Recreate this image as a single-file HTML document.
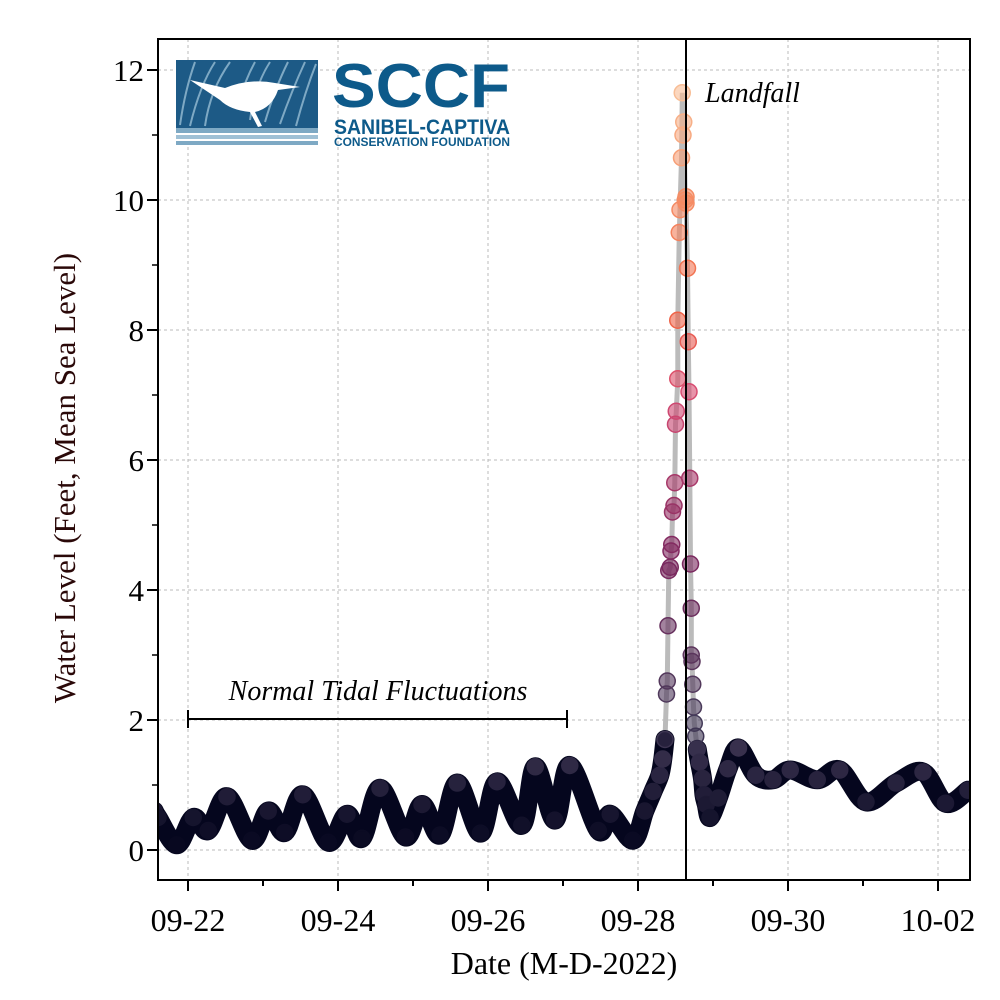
<!DOCTYPE html>
<html><head><meta charset="utf-8"><style>
html,body{margin:0;padding:0;background:#fff;}
svg{display:block;font-family:"Liberation Serif",serif;}
</style></head><body>
<svg id="chart" width="1000" height="1000" viewBox="0 0 1000 1000">
<g id="grid"></g>
<g id="logo">
  <rect x="176" y="60" width="142" height="68" fill="#1d5a86"/>
  <g stroke="#7ea9c4" stroke-width="2" fill="none">
    <path d="M180 125 Q185 90 195 62"/><path d="M190 126 Q200 85 215 62"/><path d="M205 126 Q210 90 230 62"/>
    <path d="M250 120 Q255 85 270 62"/><path d="M265 122 Q275 88 288 62"/><path d="M280 124 Q292 90 305 62"/>
    <path d="M296 126 Q305 92 316 64"/><path d="M240 100 Q245 80 255 62"/>
  </g>
  <path d="M190 80 L225 88 Q250 78 275 83 L300 87 L278 90 Q272 108 255 112 L262 126 L258 127 L250 112 Q230 110 220 100 Z" fill="#fff"/>
  <rect x="176" y="128" width="142" height="5" fill="#7ea9c4"/>
  <rect x="176" y="135" width="142" height="4" fill="#9fc0d5"/>
  <rect x="176" y="141" width="142" height="4" fill="#7ea9c4"/>
  <text x="332" y="107" font-family="'Liberation Sans',sans-serif" font-weight="bold" font-size="62" fill="#0d5a8a" textLength="178" lengthAdjust="spacingAndGlyphs">SCCF</text>
  <text x="334" y="134" font-family="'Liberation Sans',sans-serif" font-weight="bold" font-size="21" fill="#0d5a8a" textLength="176" lengthAdjust="spacingAndGlyphs">SANIBEL-CAPTIVA</text>
  <text x="334" y="146" font-family="'Liberation Sans',sans-serif" font-weight="bold" font-size="11.5" fill="#0d5a8a" textLength="176" lengthAdjust="spacingAndGlyphs">CONSERVATION FOUNDATION</text>
</g>
<g id="series"></g>
<line x1="686" y1="39" x2="686" y2="880" stroke="#000" stroke-width="2"/>
<text x="705" y="102" font-style="italic" font-size="28">Landfall</text>
<g stroke="#000" stroke-width="2">
  <line x1="188" y1="719" x2="567" y2="719"/><line x1="188" y1="710" x2="188" y2="728"/><line x1="567" y1="710" x2="567" y2="728"/>
</g>
<text x="378" y="700" text-anchor="middle" font-style="italic" font-size="28">Normal Tidal Fluctuations</text>
<rect x="158" y="39" width="812" height="841" fill="none" stroke="#000" stroke-width="2"/>
<g id="axes"></g>
<text x="564" y="974" text-anchor="middle" font-size="32">Date (M-D-2022)</text>
<text transform="translate(75,478) rotate(-90)" text-anchor="middle" font-size="31" fill="#2a0808">Water Level (Feet, Mean Sea Level)</text>
</svg>
<script>
// days since 09-22 00:00
const times = [-0.45,-0.4,-0.15,0.07,0.27,0.52,0.85,1.07,1.29,1.53,1.87,2.12,2.32,2.56,2.9,3.12,3.36,3.59,3.9,4.12,4.45,4.63,4.89,5.09,5.47,5.63,5.93,6.09,6.2,6.29,6.33,6.36,6.38,6.39,6.4,6.41,6.43,6.44,6.45,6.46,6.48,6.49,6.5,6.51,6.53,6.53,6.55,6.56,6.58,6.59,6.6,6.61,6.63,6.64,6.64,6.66,6.67,6.68,6.69,6.7,6.71,6.71,6.72,6.73,6.74,6.75,6.77,6.79,6.82,6.86,6.88,6.91,6.96,7.07,7.2,7.34,7.57,7.8,8.03,8.39,8.69,9.04,9.44,9.8,10.1,10.4];
const levels = [0.6,0.5,0.08,0.5,0.3,0.82,0.15,0.6,0.27,0.85,0.12,0.55,0.18,0.95,0.2,0.7,0.23,1.03,0.26,1.05,0.38,1.28,0.46,1.3,0.3,0.55,0.15,0.6,0.9,1.15,1.4,1.7,2.4,2.6,3.45,4.3,4.35,4.6,4.7,5.2,5.3,5.65,6.55,6.75,7.25,8.15,9.5,9.85,10.65,11.65,11.0,11.2,10.0,10.05,9.95,8.95,7.82,7.05,5.72,4.4,3.72,3.0,2.9,2.55,2.2,1.95,1.75,1.55,1.35,1.1,0.85,0.7,0.5,0.8,1.25,1.57,1.15,1.08,1.23,1.08,1.23,0.74,1.03,1.2,0.72,0.92,1.03,0.82];
const yTicks = [0,2,4,6,8,10,12];
const xTickDays = [0,2,4,6,8,10];
const xTickLabels = ["09-22","09-24","09-26","09-28","09-30","10-02"];

const NS="http://www.w3.org/2000/svg";
const X0=158,X1=970,Y0=39,Y1=880;
const xs=t=>188+75*t;
const ys=v=>850-65*v;
function mk(tag,attrs,parent){const e=document.createElementNS(NS,tag);for(const k in attrs)e.setAttribute(k,attrs[k]);parent.appendChild(e);return e;}
const grid=document.getElementById('grid'),axes=document.getElementById('axes'),series=document.getElementById('series');

yTicks.forEach(v=>{
  const g=mk('line',{x1:X0,x2:X1,y1:ys(v),y2:ys(v),stroke:'#bbb','stroke-width':1,'stroke-dasharray':'3,3'},grid);
  
  
  const t=mk('line',{x1:X0-11,x2:X0,y1:ys(v),y2:ys(v),stroke:'#000','stroke-width':2},axes);
  
  
  const l=mk('text',{x:X0-14,y:ys(v)+11,'text-anchor':'end','font-size':31},axes);
  l.textContent=v;
  
  
});
for(let v=1;v<=12;v+=2){
  const t=mk('line',{x1:X0-6,x2:X0,y1:ys(v),y2:ys(v),stroke:'#000','stroke-width':1.5},axes);
  
  
}
xTickDays.forEach((d,i)=>{
  const g=mk('line',{x1:xs(d),x2:xs(d),y1:Y0,y2:Y1,stroke:'#bbb','stroke-width':1,'stroke-dasharray':'3,3'},grid);
  
  
  const l=mk('text',{x:xs(d),y:931,'text-anchor':'middle','font-size':32},axes);
  l.textContent=xTickLabels[i];
  
  
});
for(let d=0;d<=10;d++){
  const t=mk('line',{x1:xs(d),x2:xs(d),y1:Y1,y2:Y1+(d%2?6:11),stroke:'#000','stroke-width':2},axes);
  
  
}

const stops=[[0,[5,6,30]],[2,[70,60,90]],[4.5,[125,40,95]],[7,[215,75,115]],[8.2,[240,100,70]],[10,[245,140,100]],[11.7,[248,190,150]]];
function col(v){
  if(v<=stops[0][0])return stops[0][1];
  for(let i=1;i<stops.length;i++){if(v<=stops[i][0]){const a=stops[i-1],b=stops[i],f=(v-a[0])/(b[0]-a[0]);return a[1].map((c,j)=>Math.round(c+(b[1][j]-c)*f));}}
  return stops[stops.length-1][1];
}
const clip=mk('clipPath',{id:'pc'},document.getElementById('chart'));
mk('rect',{x:X0,y:Y0,width:X1-X0,height:Y1-Y0},clip);
series.setAttribute('clip-path','url(#pc)');

let d='';
times.forEach((t,i)=>{d+=(i?'L':'M')+xs(t).toFixed(1)+' '+ys(levels[i]).toFixed(1);});
const gl=mk('path',{d:d,fill:'none',stroke:'#bbb','stroke-width':5},series);



function smooth(pts){
  let s='M'+pts[0][0].toFixed(1)+' '+pts[0][1].toFixed(1);
  for(let i=0;i<pts.length-1;i++){
    const p0=pts[Math.max(0,i-1)],p1=pts[i],p2=pts[i+1],p3=pts[Math.min(pts.length-1,i+2)];
    const c1=[p1[0]+(p2[0]-p0[0])/6,p1[1]+(p2[1]-p0[1])/6],c2=[p2[0]-(p3[0]-p1[0])/6,p2[1]-(p3[1]-p1[1])/6];
    s+='C'+c1[0].toFixed(1)+' '+c1[1].toFixed(1)+' '+c2[0].toFixed(1)+' '+c2[1].toFixed(1)+' '+p2[0].toFixed(1)+' '+p2[1].toFixed(1);
  }
  return s;
}
let runs=[],cur=[];
times.forEach((t,i)=>{
  if(levels[i]<1.75){cur.push([xs(t),ys(levels[i])]);}
  else{if(cur.length>1)runs.push(cur);cur=[];}
});
if(cur.length>1)runs.push(cur);
runs.forEach(r=>{
  const band=mk('path',{d:smooth(r),fill:'none',stroke:'#05061e','stroke-width':19,'stroke-linecap':'round','stroke-linejoin':'round'},series);
  
  
});

times.forEach((t,i)=>{
  const v=levels[i],c=col(v),cs='rgb('+c.join(',')+')';
  const p=mk('circle',{cx:xs(t),cy:ys(v),r:8,fill:cs,'fill-opacity':v<1.6?1:0.6,stroke:cs,'stroke-width':1.5},series);
  
  
});
</script>
</body></html>
